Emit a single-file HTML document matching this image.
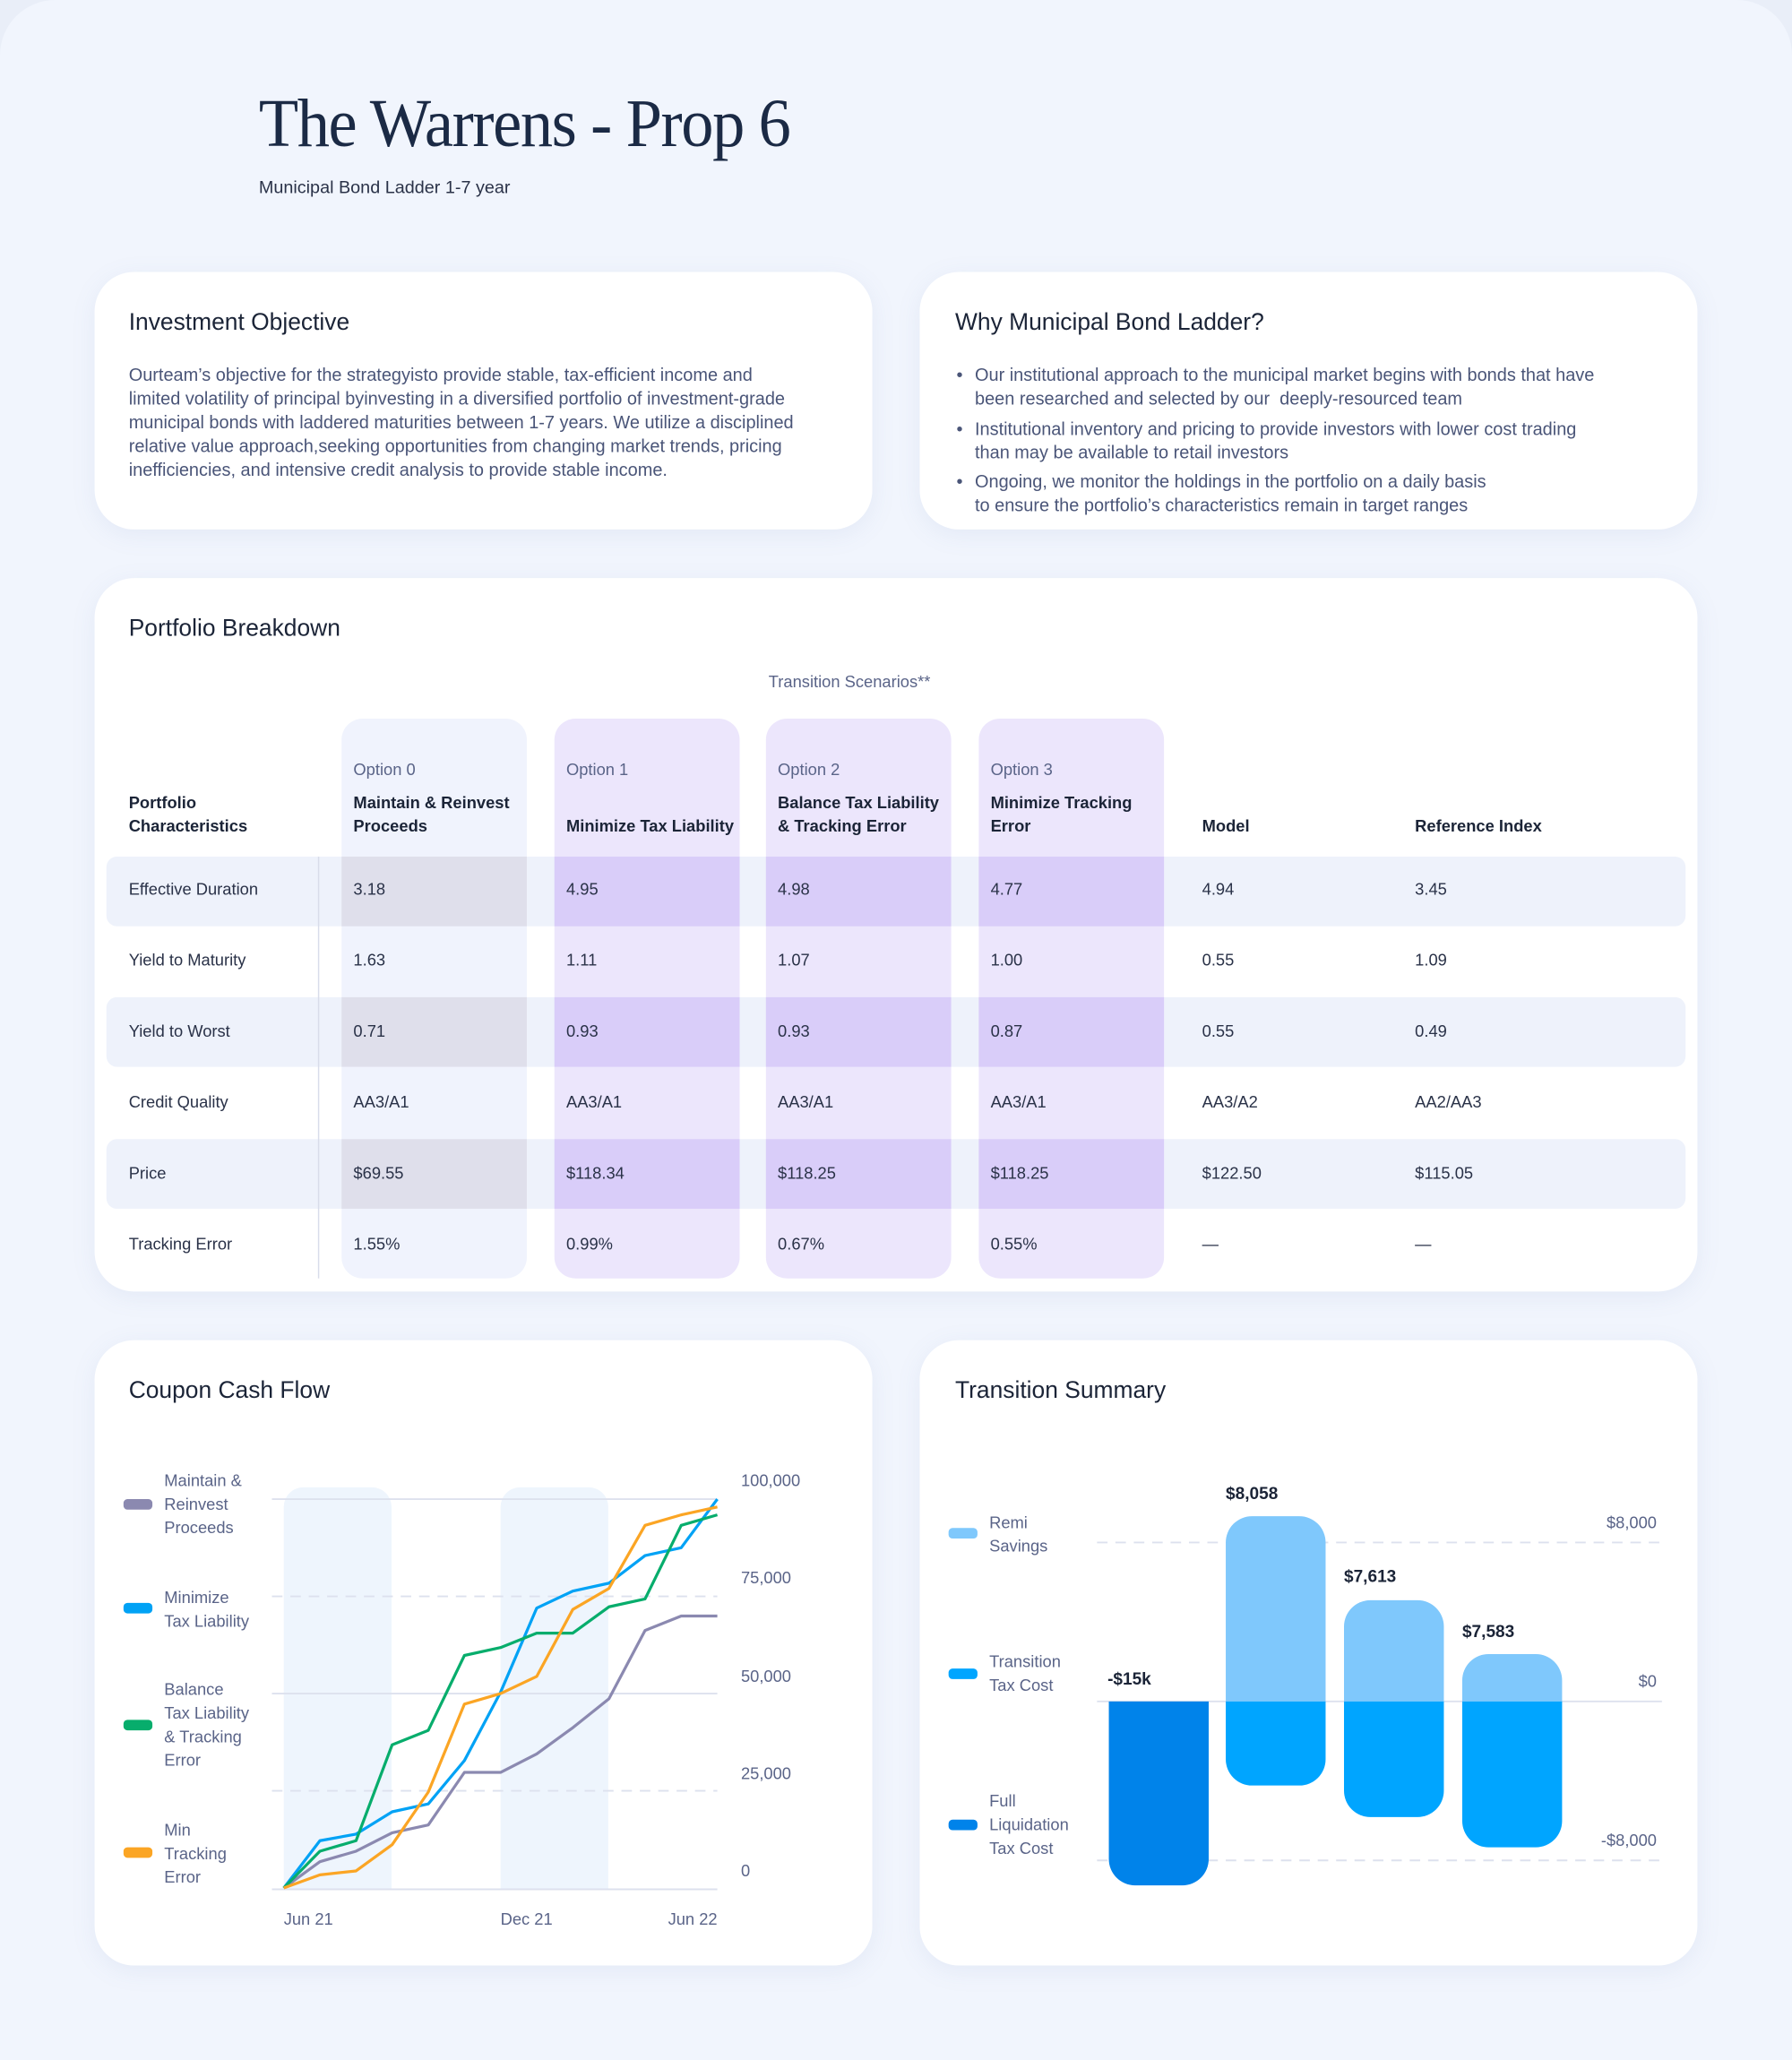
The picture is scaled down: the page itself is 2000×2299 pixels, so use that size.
<!DOCTYPE html>
<html><head><meta charset="utf-8"><style>
*{margin:0;padding:0;box-sizing:border-box}
html,body{width:2000px;height:2299px;overflow:hidden;background:#e9eef8}
#w{position:absolute;left:0;top:0;width:1364px;height:1568px;transform:scale(1.46628);transform-origin:0 0;font-family:"Liberation Sans",sans-serif;color:#1b2437}
.bg{position:absolute;left:0;top:0;width:1364px;height:1568px;background:#f1f5fd;border-radius:42px 42px 0 0}
.card{position:absolute;background:#fff;border-radius:30px;box-shadow:0 4px 18px rgba(120,140,190,0.10)}
.h{position:absolute;font-size:18px;color:#1b2437;white-space:nowrap}
.t{position:absolute;white-space:nowrap}
.body{font-size:13.6px;color:#4a5578;line-height:18px}
.col{position:absolute;top:547px;height:426px;width:141px;border-radius:16px}
.stripe{position:absolute;left:81px;width:1202px;height:53px;background:#eef2fb;border-radius:8px}
.cell{position:absolute;height:53px;width:141px}
.tx{position:absolute;font-size:12.5px;color:#2a3248;white-space:nowrap}
.hd{position:absolute;font-size:12.5px;font-weight:bold;color:#1b2437;white-space:nowrap;line-height:18px}
.op{position:absolute;font-size:12.5px;color:#5a6488;white-space:nowrap}
.lg{position:absolute;font-size:12.5px;color:#5a6488;line-height:18px;white-space:nowrap}
.sw{position:absolute;width:22px;height:8px;border-radius:3px}
</style></head><body><div id="w">
<div class="bg"></div>
<div class="t" style="left:197px;top:65px;font-family:'Liberation Serif',serif;font-size:52px;color:#1b2a45;transform:scaleX(0.95);transform-origin:0 0;letter-spacing:-1px">The Warrens - Prop 6</div>
<div class="t" style="left:197px;top:135px;font-size:13.5px;color:#2a3248">Municipal Bond Ladder 1-7 year</div>

<div class="card" style="left:72px;top:207px;width:592px;height:196px"></div>
<div class="h" style="left:98px;top:235px">Investment Objective</div>
<div class="t body" style="left:98px;top:277px">Ourteam’s objective for the strategyisto provide stable, tax-efficient income and<br>limited volatility of principal byinvesting in a diversified portfolio of investment-grade<br>municipal bonds with laddered maturities between 1-7 years. We utilize a disciplined<br>relative value approach,seeking opportunities from changing market trends, pricing<br>inefficiencies, and intensive credit analysis to provide stable income.</div>

<div class="card" style="left:700px;top:207px;width:592px;height:196px"></div>
<div class="h" style="left:727px;top:235px">Why Municipal Bond Ladder?</div>
<div class="t body" style="left:728px;top:277px">•</div>
<div class="t body" style="left:742px;top:277px">Our institutional approach to the municipal market begins with bonds that have<br>been researched and selected by our &nbsp;deeply-resourced team</div>
<div class="t body" style="left:728px;top:318px">•</div>
<div class="t body" style="left:742px;top:318px">Institutional inventory and pricing to provide investors with lower cost trading<br>than may be available to retail investors</div>
<div class="t body" style="left:728px;top:358px">•</div>
<div class="t body" style="left:742px;top:358px">Ongoing, we monitor the holdings in the portfolio on a daily basis<br>to ensure the portfolio’s characteristics remain in target ranges</div>

<div class="card" style="left:72px;top:440px;width:1220px;height:543px"></div>
<div class="h" style="left:98px;top:468px">Portfolio Breakdown</div>
<div class="t" style="left:585px;top:512px;font-size:12.5px;color:#5a6488">Transition Scenarios**</div>

<div class="stripe" style="top:652px"></div>
<div class="stripe" style="top:759px"></div>
<div class="stripe" style="top:867px"></div>
<div class="col" style="left:260px;background:#f0f3fd"></div>
<div class="col" style="left:422px;background:#ece6fc"></div>
<div class="col" style="left:583px;background:#ece6fc"></div>
<div class="col" style="left:745px;background:#ece6fc"></div>
<div class="cell" style="left:260px;top:652px;background:#dfdfeb"></div>
<div class="cell" style="left:260px;top:759px;background:#dfdfeb"></div>
<div class="cell" style="left:260px;top:867px;background:#dfdfeb"></div>
<div class="cell" style="left:422px;top:652px;background:#d9cdf9"></div>
<div class="cell" style="left:422px;top:759px;background:#d9cdf9"></div>
<div class="cell" style="left:422px;top:867px;background:#d9cdf9"></div>
<div class="cell" style="left:583px;top:652px;background:#d9cdf9"></div>
<div class="cell" style="left:583px;top:759px;background:#d9cdf9"></div>
<div class="cell" style="left:583px;top:867px;background:#d9cdf9"></div>
<div class="cell" style="left:745px;top:652px;background:#d9cdf9"></div>
<div class="cell" style="left:745px;top:759px;background:#d9cdf9"></div>
<div class="cell" style="left:745px;top:867px;background:#d9cdf9"></div>
<div style="position:absolute;left:242px;top:652px;width:1px;height:321px;background:#d8dcea"></div>

<div class="op" style="left:269px;top:579px">Option 0</div>
<div class="op" style="left:431px;top:579px">Option 1</div>
<div class="op" style="left:592px;top:579px">Option 2</div>
<div class="op" style="left:754px;top:579px">Option 3</div>
<div class="hd" style="left:98px;top:602px">Portfolio<br>Characteristics</div>
<div class="hd" style="left:269px;top:602px">Maintain &amp; Reinvest<br>Proceeds</div>
<div class="hd" style="left:431px;top:620px">Minimize Tax Liability</div>
<div class="hd" style="left:592px;top:602px">Balance Tax Liability<br>&amp; Tracking Error</div>
<div class="hd" style="left:754px;top:602px">Minimize Tracking<br>Error</div>
<div class="hd" style="left:915px;top:620px">Model</div>
<div class="hd" style="left:1077px;top:620px">Reference Index</div>

<div class="tx" style="left:98px;top:670px">Effective Duration</div><div class="tx" style="left:269px;top:670px">3.18</div><div class="tx" style="left:431px;top:670px">4.95</div><div class="tx" style="left:592px;top:670px">4.98</div><div class="tx" style="left:754px;top:670px">4.77</div><div class="tx" style="left:915px;top:670px">4.94</div><div class="tx" style="left:1077px;top:670px">3.45</div>
<div class="tx" style="left:98px;top:724px">Yield to Maturity</div><div class="tx" style="left:269px;top:724px">1.63</div><div class="tx" style="left:431px;top:724px">1.11</div><div class="tx" style="left:592px;top:724px">1.07</div><div class="tx" style="left:754px;top:724px">1.00</div><div class="tx" style="left:915px;top:724px">0.55</div><div class="tx" style="left:1077px;top:724px">1.09</div>
<div class="tx" style="left:98px;top:778px">Yield to Worst</div><div class="tx" style="left:269px;top:778px">0.71</div><div class="tx" style="left:431px;top:778px">0.93</div><div class="tx" style="left:592px;top:778px">0.93</div><div class="tx" style="left:754px;top:778px">0.87</div><div class="tx" style="left:915px;top:778px">0.55</div><div class="tx" style="left:1077px;top:778px">0.49</div>
<div class="tx" style="left:98px;top:832px">Credit Quality</div><div class="tx" style="left:269px;top:832px">AA3/A1</div><div class="tx" style="left:431px;top:832px">AA3/A1</div><div class="tx" style="left:592px;top:832px">AA3/A1</div><div class="tx" style="left:754px;top:832px">AA3/A1</div><div class="tx" style="left:915px;top:832px">AA3/A2</div><div class="tx" style="left:1077px;top:832px">AA2/AA3</div>
<div class="tx" style="left:98px;top:886px">Price</div><div class="tx" style="left:269px;top:886px">$69.55</div><div class="tx" style="left:431px;top:886px">$118.34</div><div class="tx" style="left:592px;top:886px">$118.25</div><div class="tx" style="left:754px;top:886px">$118.25</div><div class="tx" style="left:915px;top:886px">$122.50</div><div class="tx" style="left:1077px;top:886px">$115.05</div>
<div class="tx" style="left:98px;top:940px">Tracking Error</div><div class="tx" style="left:269px;top:940px">1.55%</div><div class="tx" style="left:431px;top:940px">0.99%</div><div class="tx" style="left:592px;top:940px">0.67%</div><div class="tx" style="left:754px;top:940px">0.55%</div><div class="tx" style="left:915px;top:940px">—</div><div class="tx" style="left:1077px;top:940px">—</div>

<div class="card" style="left:72px;top:1020px;width:592px;height:476px"></div>
<div class="h" style="left:98px;top:1048px">Coupon Cash Flow</div>
<div class="card" style="left:700px;top:1020px;width:592px;height:476px"></div>
<div class="h" style="left:727px;top:1048px">Transition Summary</div>

<svg style="position:absolute;left:0;top:0" width="1364" height="1568" viewBox="0 0 1364 1568">
<path d="M216 1438V1147a15 15 0 0 1 15-15h52a15 15 0 0 1 15 15V1438Z" fill="#eef5fd"/>
<path d="M381 1438V1147a15 15 0 0 1 15-15h52a15 15 0 0 1 15 15V1438Z" fill="#eef5fd"/>
<g stroke="#dde1ee" stroke-width="1.3" fill="none">
<line x1="207" y1="1141" x2="546" y2="1141"/>
<line x1="207" y1="1289" x2="546" y2="1289"/>
<line x1="207" y1="1438" x2="546" y2="1438"/>
<line x1="207" y1="1215" x2="546" y2="1215" stroke-dasharray="8 6"/>
<line x1="207" y1="1363" x2="546" y2="1363" stroke-dasharray="8 6"/>
</g>
<g fill="none" stroke-width="2.2" stroke-linejoin="round">
<polyline stroke="#8b89b0" points="216,1437 243.5,1417 271,1409 298.5,1395 326,1389 353.5,1349 381,1349 408.5,1335 436,1315 463.5,1293 491,1241 518.5,1230 546,1230"/>
<polyline stroke="#00a2f5" points="216,1437 243.5,1401 271,1396 298.5,1379 326,1373 353.5,1340 381,1288 408.5,1224 436,1211 463.5,1205 491,1184 518.5,1178 546,1141"/>
<polyline stroke="#07ad6c" points="216,1437 243.5,1409 271,1401 298.5,1328 326,1317 353.5,1260 381,1254 408.5,1243 436,1243 463.5,1223 491,1217 518.5,1161 546,1153"/>
<polyline stroke="#fba524" points="216,1437 243.5,1427 271,1424 298.5,1404 326,1364 353.5,1297 381,1289 408.5,1276 436,1225 463.5,1209 491,1161 518.5,1153 546,1147"/>
</g>
<g font-family="Liberation Sans,sans-serif" font-size="12.5" fill="#5a6488">
<text x="564" y="1131">100,000</text><text x="564" y="1205">75,000</text><text x="564" y="1280">50,000</text><text x="564" y="1354">25,000</text><text x="564" y="1428">0</text>
<text x="216" y="1465">Jun 21</text><text x="381" y="1465">Dec 21</text><text x="546" y="1465" text-anchor="end">Jun 22</text>
<text x="1261" y="1163" text-anchor="end">$8,000</text><text x="1261" y="1284" text-anchor="end">$0</text><text x="1261" y="1405" text-anchor="end">-$8,000</text>
</g>
<g stroke="#dde1ee" stroke-width="1.3">
<line x1="835" y1="1174" x2="1265" y2="1174" stroke-dasharray="8 6"/>
<line x1="835" y1="1416" x2="1265" y2="1416" stroke-dasharray="8 6"/>
<line x1="835" y1="1295" x2="1265" y2="1295"/>
</g>
<path d="M844 1295H920V1415a20 20 0 0 1-20 20H864a20 20 0 0 1-20-20Z" fill="#0083ea"/>
<path d="M933 1295V1174a20 20 0 0 1 20-20h36a20 20 0 0 1 20 20V1295Z" fill="#7fc8fc"/>
<path d="M933 1295H1009V1339a20 20 0 0 1-20 20H953a20 20 0 0 1-20-20Z" fill="#00a5ff"/>
<path d="M1023 1295V1238a20 20 0 0 1 20-20h36a20 20 0 0 1 20 20V1295Z" fill="#7fc8fc"/>
<path d="M1023 1295H1099V1363a20 20 0 0 1-20 20H1043a20 20 0 0 1-20-20Z" fill="#00a5ff"/>
<path d="M1113 1295V1279a20 20 0 0 1 20-20h36a20 20 0 0 1 20 20V1295Z" fill="#7fc8fc"/>
<path d="M1113 1295H1189V1386a20 20 0 0 1-20 20H1133a20 20 0 0 1-20-20Z" fill="#00a5ff"/>
<g font-family="Liberation Sans,sans-serif" font-size="13" font-weight="bold" fill="#1b2437">
<text x="843" y="1282">-$15k</text><text x="933" y="1141">$8,058</text><text x="1023" y="1204">$7,613</text><text x="1113" y="1246">$7,583</text>
</g>
</svg>

<div class="sw" style="left:94px;top:1141px;background:#8b89b0"></div>
<div class="lg" style="left:125px;top:1118px">Maintain &amp;<br>Reinvest<br>Proceeds</div>
<div class="sw" style="left:94px;top:1220px;background:#00a2f5"></div>
<div class="lg" style="left:125px;top:1207px">Minimize<br>Tax Liability</div>
<div class="sw" style="left:94px;top:1309px;background:#07ad6c"></div>
<div class="lg" style="left:125px;top:1277px">Balance<br>Tax Liability<br>&amp; Tracking<br>Error</div>
<div class="sw" style="left:94px;top:1406px;background:#fba524"></div>
<div class="lg" style="left:125px;top:1384px">Min<br>Tracking<br>Error</div>

<div class="sw" style="left:722px;top:1163px;background:#7fc8fc"></div>
<div class="lg" style="left:753px;top:1150px">Remi<br>Savings</div>
<div class="sw" style="left:722px;top:1270px;background:#00a5ff"></div>
<div class="lg" style="left:753px;top:1256px">Transition<br>Tax Cost</div>
<div class="sw" style="left:722px;top:1385px;background:#0083ea"></div>
<div class="lg" style="left:753px;top:1362px">Full<br>Liquidation<br>Tax Cost</div>
</div></body></html>
